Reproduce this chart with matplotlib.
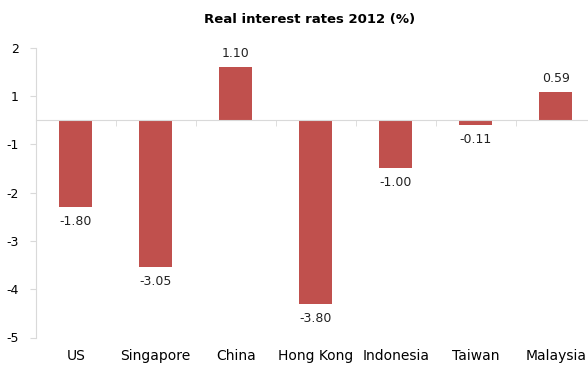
import matplotlib.pyplot as plt
import numpy as np

paises = ['US', 'Singapore', 'China', 'Hong Kong', 'Indonesia', 'Taiwan', 'Malaysia']
taxas = [-1.80, -3.05, 1.10, -3.80, -1.00, -0.11, 0.59]
rotulos = ['-1.80', '-3.05', '1.10', '-3.80', '-1.00', '-0.11', '0.59']
# the original axis labels sit half a unit off the zero line
y_rotulos = [2, 1, -1, -2, -3, -4, -5]

cor_barra = '#C0504D'
cor_eixo = '#D9D9D9'

fig = plt.figure(figsize=(5.88, 3.65), dpi=100)
ax = fig.add_axes([35.7 / 588, 1 - 337.5 / 365, 560 / 588, 289.8 / 365])

x = np.arange(len(paises))
ax.bar(x, taxas, width=0.41, color=cor_barra, zorder=2)

for xi, v, txt in zip(x, taxas, rotulos):
    off = 0.28 if v > 0 else -0.30
    ax.text(xi, v + off, txt, ha='center', va='center', fontsize=9, color='#222222')

ax.set_xlim(-0.5, len(paises) - 0.5)
ax.set_ylim(-4.5, 1.5)

y_pos = [v - 0.5 if v > 0 else v + 0.5 for v in y_rotulos]
ax.set_yticks(y_pos)
ax.set_yticklabels([str(v) for v in y_rotulos], fontsize=9)
ax.tick_params(axis='y', length=4, color=cor_eixo, pad=8)

ax.set_xticks(x)
ax.set_xticklabels(paises, fontsize=9)
ax.set_xticks(np.arange(len(paises) + 1) - 0.5, minor=True)
ax.tick_params(axis='x', which='major', bottom=False, top=False, pad=5)
ax.tick_params(axis='x', which='minor', bottom=False, top=True, direction='in',
               length=4, color=cor_eixo)

ax.spines['top'].set_position(('data', 0))
ax.spines['top'].set_color(cor_eixo)
ax.spines['left'].set_color(cor_eixo)
ax.spines['right'].set_visible(False)
ax.spines['bottom'].set_visible(False)

fig.text(310 / 588, 1 - 20 / 365, 'Real interest rates 2012 (%)', ha='center', va='center',
         fontsize=9.5, fontweight='bold')

fig.savefig('out.png', dpi=100)
